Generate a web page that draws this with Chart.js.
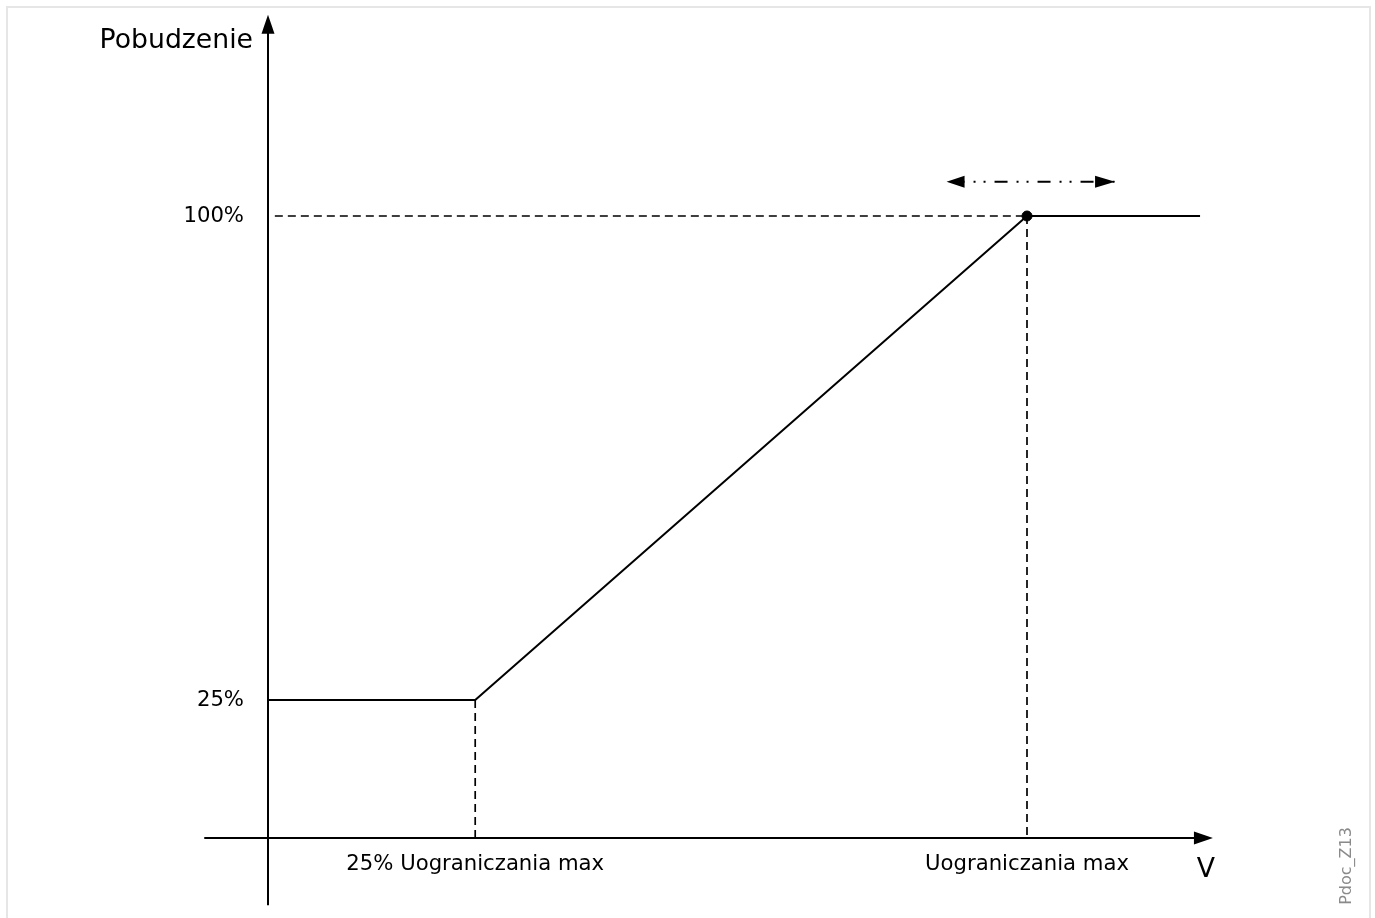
<!DOCTYPE html>
<html>
<head>
<meta charset="utf-8">
<script src="https://cdn.jsdelivr.net/npm/chart.js@4/dist/chart.umd.min.js"></script>
<style>
  html, body { margin: 0; padding: 0; background: #fff; overflow: hidden; }
  #wrap { position: relative; width: 1375px; height: 918px; }
  #frame { position: absolute; left: 6px; top: 6px; width: 1365px; height: 940px;
           border: 2px solid #e6e6e6; border-bottom: none; box-sizing: border-box; }
  canvas { position: absolute; left: 0; top: 0; }
</style>
</head>
<body>
<div id="wrap">
  <div id="frame"></div>
  <canvas id="c" width="1375" height="918"></canvas>
</div>
<script>
// ---- data ----
const curveX = [0, 27.3, 100, 122.8];          // V (as % of Uograniczania max)
const curveY = [25, 25, 100, 100];             // Pobudzenie %
const yTickValues = [25, 100];
const yTickLabels = ['25%', '100%'];
const xTickValues = [27.3, 100];
const xTickLabels = ['25% Uograniczania max', 'Uograniczania max'];
const axisCrossY = 3.6;                        // level where the V axis is drawn
const xAxisExtent = [-8.4, 124.5];
const yAxisExtent = [-6.8, 131.2];
const guideStartX = 0.9;
const adjustArrowX = [89.4, 111.6];
const adjustArrowY = 105.3;
const yAxisTitle = 'Pobudzenie';
const xAxisTitle = 'V';
const docId = 'Pdoc_Z13';

const FONT = '"DejaVu Sans", "Liberation Sans", sans-serif';

const datasets = [
  { label: 'curve', data: curveX.map((x, i) => ({ x, y: curveY[i] })),
    borderColor: '#000', borderWidth: 2, pointRadius: 0, showLine: true },
  { label: 'guide100', data: [{ x: guideStartX, y: yTickValues[1] }, { x: xTickValues[1], y: yTickValues[1] }],
    borderColor: '#000', borderWidth: 1.7, borderDash: [8, 5], pointRadius: 0, showLine: true },
  { label: 'guideKnee', data: [{ x: xTickValues[0], y: yTickValues[0] }, { x: xTickValues[0], y: axisCrossY }],
    borderColor: '#000', borderWidth: 1.7, borderDash: [8, 5], pointRadius: 0, showLine: true },
  { label: 'guideMax', data: [{ x: xTickValues[1], y: yTickValues[1] }, { x: xTickValues[1], y: axisCrossY }],
    borderColor: '#000', borderWidth: 1.7, borderDash: [8, 5], pointRadius: 0, showLine: true },
  { label: 'adjust', data: [{ x: adjustArrowX[0], y: adjustArrowY }, { x: adjustArrowX[1], y: adjustArrowY }],
    borderColor: '#000', borderWidth: 2, borderDash: [2, 8, 2, 9, 13, 9], borderDashOffset: 16,
    pointRadius: 0, showLine: true },
  { label: 'dot', data: [{ x: xTickValues[1], y: yTickValues[1] }],
    backgroundColor: '#000', borderColor: '#000', pointRadius: 5, showLine: false }
];

function arrowHead(ctx, tipX, tipY, dirX, dirY, len, half) {
  const bx = tipX - dirX * len, by = tipY - dirY * len;
  const px = -dirY, py = dirX;
  ctx.beginPath();
  ctx.moveTo(tipX, tipY);
  ctx.lineTo(bx + px * half, by + py * half);
  ctx.lineTo(bx - px * half, by - py * half);
  ctx.closePath();
  ctx.fill();
}

const diagramPlugin = {
  id: 'diagram',
  beforeDatasetsDraw(chart) {
    const ctx = chart.ctx, xs = chart.scales.x, ys = chart.scales.y;
    ctx.save();
    ctx.strokeStyle = '#000'; ctx.fillStyle = '#000'; ctx.lineWidth = 2;
    // y axis
    const x0 = xs.getPixelForValue(0);
    const yb = ys.getPixelForValue(yAxisExtent[0]), yt = ys.getPixelForValue(yAxisExtent[1]);
    ctx.beginPath(); ctx.moveTo(x0, yb); ctx.lineTo(x0, yt + 10); ctx.stroke();
    arrowHead(ctx, x0, yt, 0, -1, 19, 6.5);
    // x axis
    const ya = ys.getPixelForValue(axisCrossY);
    const xl = xs.getPixelForValue(xAxisExtent[0]), xr = xs.getPixelForValue(xAxisExtent[1]);
    ctx.beginPath(); ctx.moveTo(xl, ya); ctx.lineTo(xr - 10, ya); ctx.stroke();
    arrowHead(ctx, xr, ya, 1, 0, 19, 6.5);
    ctx.restore();
  },
  afterDatasetsDraw(chart) {
    const ctx = chart.ctx, xs = chart.scales.x, ys = chart.scales.y;
    ctx.save();
    ctx.fillStyle = '#000';
    // adjust arrow heads
    const ay = ys.getPixelForValue(adjustArrowY);
    const axl = xs.getPixelForValue(adjustArrowX[0]), axr = xs.getPixelForValue(adjustArrowX[1]);
    arrowHead(ctx, axl, ay, -1, 0, 18, 6);
    arrowHead(ctx, axr, ay, 1, 0, 20, 6);
    // y tick labels
    const x0 = xs.getPixelForValue(0);
    ctx.font = '21.2px ' + FONT;
    ctx.textAlign = 'right'; ctx.textBaseline = 'middle';
    yTickValues.forEach((v, i) => ctx.fillText(yTickLabels[i], x0 - 24, ys.getPixelForValue(v)));
    // x tick labels
    const ya = ys.getPixelForValue(axisCrossY);
    ctx.textAlign = 'center'; ctx.textBaseline = 'alphabetic';
    xTickValues.forEach((v, i) => ctx.fillText(xTickLabels[i], xs.getPixelForValue(v), ya + 32));
    // axis titles
    ctx.font = '26.7px ' + FONT;
    ctx.textAlign = 'right'; ctx.textBaseline = 'alphabetic';
    ctx.fillText(yAxisTitle, x0 - 15, 48);
    ctx.textAlign = 'center';
    ctx.fillText(xAxisTitle, xs.getPixelForValue(xAxisExtent[1]) - 7, ya + 39);
    // doc id
    ctx.font = '16px ' + FONT;
    ctx.fillStyle = '#8a8a8a';
    ctx.translate(1351, 866);
    ctx.rotate(-Math.PI / 2);
    ctx.textAlign = 'center'; ctx.textBaseline = 'alphabetic';
    ctx.fillText(docId, 0, 0);
    ctx.restore();
  }
};

new Chart(document.getElementById('c'), {
  type: 'scatter',
  data: { datasets },
  options: {
    responsive: false,
    animation: false,
    layout: { padding: 0, autoPadding: false },
    plugins: { legend: { display: false }, tooltip: { enabled: false } },
    scales: {
      x: { type: 'linear', display: false, min: -35.31, max: 145.85 },
      y: { type: 'linear', display: false, min: -8.78, max: 133.47 }
    },
    elements: { line: { tension: 0 } }
  },
  plugins: [diagramPlugin]
});
</script>
</body>
</html>
